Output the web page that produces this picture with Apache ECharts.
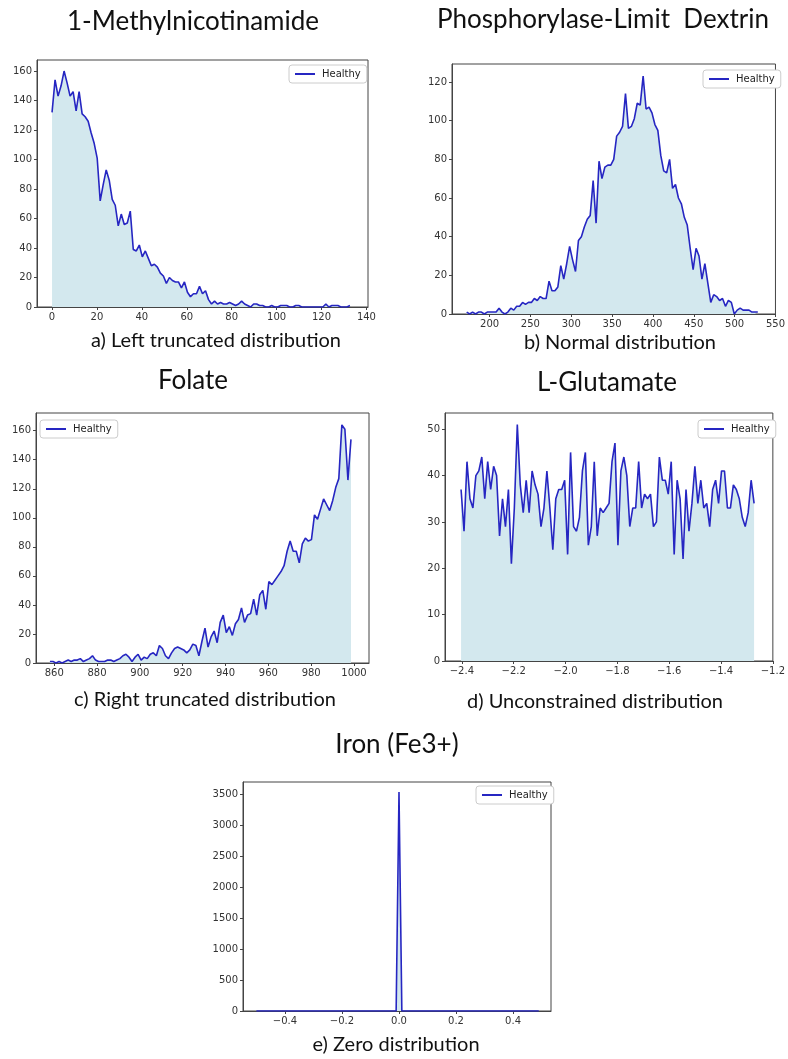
<!DOCTYPE html>
<html>
<head>
<meta charset="utf-8">
<script src="https://cdn.jsdelivr.net/npm/echarts@6/dist/echarts.min.js"></script>
<style>
html, body { margin: 0; padding: 0; background: #fff; }
#chart { width: 788px; height: 1059px; }
</style>
</head>
<body>
<div id="chart"></div>
<script>
// histogram counts, one array per metabolite (bins start at *Start, width *Step)
var methylStart = 0, methylStep = 1.34;
var methylCounts = [
  132, 154, 143, 150, 160, 152, 143, 146, 133, 146,
  131, 129, 126, 118, 111, 101, 72, 83, 93, 86,
  73, 69, 55, 63, 56, 57, 65, 39, 38, 42,
  34, 38, 33, 28, 29, 27, 23, 21, 16, 20,
  18, 17, 17, 13, 17, 10, 7, 9, 9, 14,
  9, 11, 5, 2, 4, 2, 3, 2, 2, 3,
  2, 1, 2, 4, 2, 1, 0, 2, 2, 1,
  1, 0, 0, 1, 0, 0, 1, 1, 1, 0,
  0, 1, 1, 0, 0, 0, 0, 0, 0, 0,
  0, 2, 0, 1, 1, 1, 0, 0, 0, 1
];

var dextrinStart = 172, dextrinStep = 3.6;
var dextrinCounts = [
  1, 0, 1, 0, 1, 1, 0, 1, 1, 1,
  1, 3, 1, 0, 1, 3, 2, 4, 4, 6,
  5, 6, 6, 8, 7, 9, 8, 8, 17, 12,
  12, 14, 25, 18, 26, 35, 28, 22, 38, 40,
  45, 49, 51, 69, 47, 79, 70, 76, 77, 77,
  80, 92, 94, 97, 114, 96, 97, 101, 109, 108,
  123, 106, 107, 104, 98, 95, 82, 74, 73, 80,
  65, 67, 60, 57, 50, 46, 34, 23, 34, 30,
  18, 26, 16, 6, 10, 9, 7, 8, 4, 7,
  6, 0, 2, 3, 2, 2, 2, 1, 1, 1
];

var folateStart = 858, folateStep = 1.42;
var folateCounts = [
  1, 1, 0, 1, 0, 1, 2, 1, 2, 2,
  3, 1, 2, 3, 5, 2, 1, 1, 1, 2,
  2, 1, 2, 3, 5, 6, 4, 1, 4, 6,
  2, 4, 3, 6, 7, 5, 12, 10, 5, 3,
  7, 10, 11, 10, 9, 7, 9, 13, 12, 5,
  15, 24, 11, 18, 22, 14, 28, 33, 21, 25,
  19, 27, 30, 38, 28, 33, 34, 44, 33, 47,
  50, 37, 56, 54, 57, 60, 63, 67, 77, 84,
  77, 77, 69, 82, 86, 84, 85, 102, 99, 106,
  113, 109, 105, 112, 121, 127, 164, 161, 126, 154
];

var glutamateStart = -2.403, glutamateStep = 0.01142;
var glutamateCounts = [
  37, 28, 43, 35, 33, 40, 41, 44, 35, 43,
  37, 42, 40, 27, 35, 29, 37, 21, 33, 51,
  38, 32, 39, 32, 41, 38, 36, 29, 33, 41,
  33, 24, 35, 37, 37, 39, 23, 45, 29, 28,
  31, 41, 45, 25, 29, 43, 27, 33, 32, 33,
  34, 43, 47, 25, 41, 44, 40, 29, 33, 33,
  43, 33, 36, 35, 36, 29, 30, 44, 39, 39,
  36, 43, 23, 39, 35, 22, 37, 28, 34, 42,
  34, 39, 33, 34, 29, 37, 39, 34, 41, 41,
  33, 33, 38, 37, 35, 31, 29, 32, 39, 34
];

var ironStart = -0.5, ironStep = 0.01;
var ironCounts = [
  0, 0, 0, 0, 0, 0, 0, 0, 0, 0,
  0, 0, 0, 0, 0, 0, 0, 0, 0, 0,
  0, 0, 0, 0, 0, 0, 0, 0, 0, 0,
  0, 0, 0, 0, 0, 0, 0, 0, 0, 0,
  0, 0, 0, 0, 0, 0, 0, 0, 0, 0,
  3545, 0, 0, 0, 0, 0, 0, 0, 0, 0,
  0, 0, 0, 0, 0, 0, 0, 0, 0, 0,
  0, 0, 0, 0, 0, 0, 0, 0, 0, 0,
  0, 0, 0, 0, 0, 0, 0, 0, 0, 0,
  0, 0, 0, 0, 0, 0, 0, 0, 0, 0
];

// tick labels
var methylXTicks = [0, 20, 40, 60, 80, 100, 120, 140];
var methylYTicks = [0, 20, 40, 60, 80, 100, 120, 140, 160];
var dextrinXTicks = [200, 250, 300, 350, 400, 450, 500, 550];
var dextrinYTicks = [0, 20, 40, 60, 80, 100, 120];
var folateXTicks = [860, 880, 900, 920, 940, 960, 980, 1000];
var folateYTicks = [0, 20, 40, 60, 80, 100, 120, 140, 160];
var glutamateXTicks = [-2.4, -2.2, -2.0, -1.8, -1.6, -1.4, -1.2];
var glutamateYTicks = [0, 10, 20, 30, 40, 50];
var ironXTicks = [-0.4, -0.2, 0.0, 0.2, 0.4];
var ironYTicks = [0, 500, 1000, 1500, 2000, 2500, 3000, 3500];

var titles = ["1-Methylnicotinamide", "Phosphorylase-Limit  Dextrin", "Folate", "L-Glutamate", "Iron (Fe3+)"];
var captions = ["a) Left truncated distribution", "b) Normal distribution", "c) Right truncated distribution",
  "d) Unconstrained distribution", "e) Zero distribution"];

var LINE = "#2626c2";
var FILL = "#d3e8ee";
var AXIS = "#444";

function toPairs(start, step, counts) {
  return counts.map(function (c, i) {
    return [start + i * step, c];
  });
}

function fmt(digits) {
  return function (v) {
    var s = Number(v).toFixed(digits);
    return s.charAt(0) === "-" ? "\u2212" + s.slice(1) : s;
  };
}

function xAxisOf(idx, min, max, ticks, digits) {
  return {
    type: "value",
    gridIndex: idx,
    min: min,
    max: max,
    axisLine: { show: true, onZero: false, lineStyle: { color: AXIS, width: 1 } },
    axisTick: { show: true, length: 3, customValues: ticks, lineStyle: { color: AXIS } },
    axisLabel: {
      customValues: ticks,
      margin: 5,
      fontSize: 10,
      fontFamily: "DejaVu Sans",
      color: "#333",
      formatter: fmt(digits)
    },
    splitLine: { show: false }
  };
}

function yAxisOf(idx, max, ticks) {
  return {
    type: "value",
    gridIndex: idx,
    min: 0,
    max: max,
    axisLine: { show: true, onZero: false, lineStyle: { color: AXIS, width: 1 } },
    axisTick: { show: true, length: 3, customValues: ticks, lineStyle: { color: AXIS } },
    axisLabel: {
      customValues: ticks,
      margin: 5,
      fontSize: 10,
      fontFamily: "DejaVu Sans",
      color: "#333",
      formatter: fmt(0)
    },
    splitLine: { show: false }
  };
}

function seriesOf(idx, data) {
  return {
    name: "Healthy",
    type: "line",
    xAxisIndex: idx,
    yAxisIndex: idx,
    data: data,
    symbol: "none",
    color: LINE,
    lineStyle: { color: LINE, width: 1.6 },
    areaStyle: { color: FILL, opacity: 1 },
    z: 2
  };
}

function legendAt(left, top) {
  return {
    left: left,
    top: top,
    data: ["Healthy"],
    icon: "path://M0,0 L20,0 L20,2 L0,2 Z",
    itemWidth: 20,
    itemHeight: 2,
    itemGap: 0,
    padding: [4, 6, 4, 6],
    borderColor: "#ccc",
    borderWidth: 1,
    borderRadius: 3,
    backgroundColor: "#fff",
    selectedMode: false,
    textStyle: { fontSize: 10, fontFamily: "DejaVu Sans", color: "#222", padding: [0, 0, 0, 2] }
  };
}

function label(text, x, y, size) {
  return {
    type: "text",
    x: x,
    y: y,
    style: {
      text: text,
      fill: "#111",
      font: size + "px Lato",
      textAlign: "center",
      textVerticalAlign: "middle"
    }
  };
}

var gridBox = { show: true, borderColor: AXIS, borderWidth: 1, backgroundColor: "transparent" };

var chart = echarts.init(document.getElementById("chart"), null, { renderer: "canvas" });

var option = {
  animation: false,
  backgroundColor: "#fff",
  grid: [
    Object.assign({ left: 37, top: 60, width: 331, height: 247 }, gridBox),
    Object.assign({ left: 452, top: 64, width: 330, height: 250 }, gridBox),
    Object.assign({ left: 36, top: 413, width: 333, height: 250 }, gridBox),
    Object.assign({ left: 445, top: 413, width: 333, height: 248 }, gridBox),
    Object.assign({ left: 243, top: 782, width: 308, height: 229 }, gridBox)
  ],
  xAxis: [
    xAxisOf(0, -6.7, 140.7, methylXTicks, 0),
    xAxisOf(1, 154, 550, dextrinXTicks, 0),
    xAxisOf(2, 851.5, 1007, folateXTicks, 0),
    xAxisOf(3, -2.465, -1.2, glutamateXTicks, 1),
    xAxisOf(4, -0.547, 0.533, ironXTicks, 1)
  ],
  yAxis: [
    yAxisOf(0, 167.5, methylYTicks),
    yAxisOf(1, 129.3, dextrinYTicks),
    yAxisOf(2, 172.2, folateYTicks),
    yAxisOf(3, 53.5, glutamateYTicks),
    yAxisOf(4, 3706, ironYTicks)
  ],
  legend: [
    legendAt(289, 65),
    legendAt(703, 70),
    legendAt(40, 420),
    legendAt(698, 420),
    legendAt(476, 786)
  ],
  series: [
    seriesOf(0, toPairs(methylStart, methylStep, methylCounts)),
    seriesOf(1, toPairs(dextrinStart, dextrinStep, dextrinCounts)),
    seriesOf(2, toPairs(folateStart, folateStep, folateCounts)),
    seriesOf(3, toPairs(glutamateStart, glutamateStep, glutamateCounts)),
    seriesOf(4, toPairs(ironStart, ironStep, ironCounts))
  ],
  graphic: [
    label(titles[0], 193, 22, 26),
    label(titles[1], 603, 20, 26),
    label(titles[2], 193, 381, 26),
    label(titles[3], 607, 383, 26),
    label(titles[4], 397, 745, 26),
    label(captions[0], 216, 341, 20),
    label(captions[1], 620, 343, 20),
    label(captions[2], 205, 700, 20),
    label(captions[3], 595, 702, 20),
    label(captions[4], 396, 1045, 20)
  ]
};

chart.setOption(option);
</script>
</body>
</html>
